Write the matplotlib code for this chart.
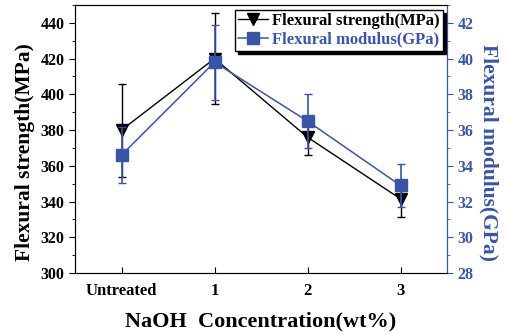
import matplotlib
matplotlib.use("Agg")
import matplotlib.pyplot as plt
from matplotlib.ticker import MultipleLocator

categories = ["Untreated", "1", "2", "3"]
strength = [380, 420, 376, 341.5]
strength_err = [26, 25.5, 10, 10]
modulus = [34.6, 39.8, 36.5, 32.9]
modulus_err = [1.55, 2.1, 1.5, 1.2]

blue = "#3a55a5"
plt.rcParams['font.family'] = ['Liberation Serif', 'DejaVu Serif']
plt.rcParams['font.weight'] = 'bold'

fig = plt.figure(figsize=(5.05, 3.35), dpi=100)
ax = fig.add_axes([75/505, 1-273/335, (447-75)/505, (273-5)/335])
ax2 = ax.twinx()

x = list(range(len(categories)))
l1 = ax.errorbar(x, strength, yerr=strength_err, color='black', marker='v', ms=9,
                 lw=1.0, capsize=3, elinewidth=1.0, capthick=1.0,
                 label='Flexural strength(MPa)', zorder=3)
l2 = ax2.errorbar(x, modulus, yerr=modulus_err, color=blue, marker='s', ms=8,
                  lw=1.1, capsize=3, elinewidth=1.2, capthick=1.0,
                  label='Flexural modulus(GPa)', zorder=3)

ax.set_xlim(-0.5, 3.5)
ax.set_ylim(300, 450)
ax2.set_ylim(28, 43)
ax.set_xticks(x)
ax.set_xticklabels(categories, fontsize=12, fontweight='bold')
ax.yaxis.set_major_locator(MultipleLocator(20))
ax.yaxis.set_minor_locator(MultipleLocator(10))
ax2.yaxis.set_major_locator(MultipleLocator(2))
ax2.yaxis.set_minor_locator(MultipleLocator(1))

ax.tick_params(axis='x', direction='in', length=4, pad=7)
ax.tick_params(axis='y', which='major', direction='out', length=4, labelsize=11.5)
ax.tick_params(axis='y', which='minor', direction='out', length=2)
ax2.tick_params(axis='y', which='major', direction='out', length=4, labelsize=11.5,
                colors=blue)
ax2.tick_params(axis='y', which='minor', direction='out', length=2, colors=blue)
for lab in ax.get_yticklabels() + ax2.get_yticklabels():
    lab.set_fontweight('bold')

ax2.spines['right'].set_color(blue)
for s in ['left', 'bottom', 'top']:
    ax.spines[s].set_color('#333333')

ax.set_ylabel('Flexural strength(MPa)', fontsize=15.5, fontweight='bold')
ax.yaxis.set_label_coords(-0.108, 0.45)
ax2.set_ylabel('Flexural modulus(GPa)', fontsize=15.5, fontweight='bold', color=blue,
               rotation=270, va='bottom')
ax2.yaxis.set_label_coords(1.085, 0.45)
ax.set_xlabel('NaOH  Concentration(wt%)', fontsize=16, fontweight='bold', labelpad=9)

leg = ax.legend([l1[0], l2[0]], ['Flexural strength(MPa)', 'Flexural modulus(GPa)'],
                loc='upper right', bbox_to_anchor=(0.997, 0.995), fontsize=12,
                frameon=True, fancybox=False,
                shadow={'color': 'black', 'alpha': 1.0, 'ox': 2.5, 'oy': -2.5},
                framealpha=1,
                edgecolor='black', borderpad=0.2, handlelength=1.8,
                handletextpad=0.2, labelspacing=0.15, borderaxespad=0.2)
leg.get_texts()[1].set_color(blue)
leg.set_zorder(10)

fig.savefig('out.png', dpi=100)
